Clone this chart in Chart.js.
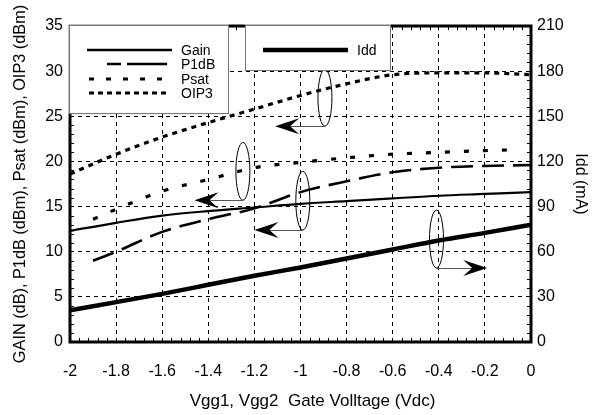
<!DOCTYPE html>
<html><head><meta charset="utf-8">
<script src="https://cdn.jsdelivr.net/npm/chart.js@4/dist/chart.umd.min.js"></script>
<style>html,body{margin:0;padding:0;background:#fff}</style>
</head><body>
<canvas id="c" width="595" height="415"></canvas>
<script>
// ---- data ----
const xTicks = [-2, -1.8, -1.6, -1.4, -1.2, -1, -0.8, -0.6, -0.4, -0.2, 0];
const xLabels = ['-2', '-1.8', '-1.6', '-1.4', '-1.2', '-1', '-0.8', '-0.6', '-0.4', '-0.2', '0'];
const vgg = [-2, -1.8, -1.6, -1.4, -1.2, -1.0, -0.8, -0.6, -0.4, -0.2, 0];
const gain = [12.3, 13.2, 14.0, 14.5, 14.9, 15.3, 15.6, 15.9, 16.2, 16.4, 16.6];
const oip3 = [18.6, 20.8, 22.7, 24.3, 25.8, 27.3, 28.6, 29.6, 29.8, 29.8, 29.6];
const idd = [21, 26.5, 32, 38, 44, 49.5, 55.5, 61.5, 67.5, 72.5, 78];
const vggP1 = [-1.9, -1.8, -1.6, -1.4, -1.2, -1.0, -0.8, -0.6, -0.4, -0.2, 0];
const p1db = [9.0, 10.0, 12.2, 13.6, 14.8, 16.6, 17.8, 18.8, 19.3, 19.5, 19.6];
const vggPs = [-1.9, -1.8, -1.6, -1.4, -1.2, -1.0, -0.8, -0.6, -0.4, -0.2, -0.05];
const psat = [13.6, 14.7, 16.7, 18.0, 19.3, 19.9, 20.4, 20.8, 21.0, 21.2, 21.3];
// callouts (data units): ellipse centre x, ellipse top/bottom y, arrow tip x
const calloutX = [-0.894, -1.25, -0.99, -0.41];
const calloutTop = [30.2, 22.1, 18.9, 14.6];
const calloutBottom = [23.9, 15.7, 12.4, 8.2];
const calloutTip = [-1.11, -1.46, -1.20, -0.19];
const xTitle = 'Vgg1, Vgg2  Gate Volltage (Vdc)';

const pts = (xs, ys) => xs.map((x, i) => ({x: x, y: ys[i]}));
const FONT = 'Liberation Sans, Arial, Helvetica, sans-serif';

const overlay = {
  id: 'overlay',
  afterDraw(chart) {
    const ctx = chart.ctx, ca = chart.chartArea;
    const xs = chart.scales.x, ys = chart.scales.y;
    ctx.save();
    // minor ticks
    ctx.strokeStyle = '#000'; ctx.lineWidth = 1;
    ctx.beginPath();
    for (let i = 0; i < xTicks.length - 1; i++) {
      for (let k = 1; k < 5; k++) {
        const v = xTicks[i] + (xTicks[i + 1] - xTicks[i]) * k / 5;
        const px = Math.round(xs.getPixelForValue(v)) + 0.5;
        ctx.moveTo(px, ca.bottom); ctx.lineTo(px, ca.bottom - 4);
        ctx.moveTo(px, ca.top); ctx.lineTo(px, ca.top + 4);
      }
    }
    for (let v = 0; v <= 35; v++) {
      if (v % 5 === 0) continue;
      const py = Math.round(ys.getPixelForValue(v)) + 0.5;
      ctx.moveTo(ca.left, py); ctx.lineTo(ca.left + 4, py);
      ctx.moveTo(ca.right, py); ctx.lineTo(ca.right - 4, py);
    }
    ctx.stroke();
    // frame
    ctx.lineWidth = 3; ctx.strokeStyle = '#000';
    ctx.strokeRect(ca.left, ca.top, ca.right - ca.left, ca.bottom - ca.top);
    // x-axis title (sits slightly right of centre in the original)
    ctx.fillStyle = '#000';
    ctx.font = '17px ' + FONT; ctx.textAlign = 'center'; ctx.textBaseline = 'middle';
    ctx.fillText(xTitle, (ca.left + ca.right) / 2 + 12, ca.bottom + 59);
    // callouts
    for (let i = 0; i < calloutX.length; i++) {
      const cx = xs.getPixelForValue(calloutX[i]);
      const yt = ys.getPixelForValue(calloutTop[i]);
      const yb = ys.getPixelForValue(calloutBottom[i]);
      const tip = xs.getPixelForValue(calloutTip[i]);
      ctx.lineWidth = 1; ctx.strokeStyle = '#000';
      ctx.beginPath();
      ctx.ellipse(cx, (yt + yb) / 2, 7, (yb - yt) / 2, 0, 0, Math.PI * 2);
      ctx.stroke();
      const dir = tip < cx ? 1 : -1;
      ctx.strokeStyle = '#555';
      ctx.beginPath();
      ctx.moveTo(cx, Math.round(yb) + 0.5); ctx.lineTo(tip + dir * 14, Math.round(yb) + 0.5);
      ctx.stroke();
      ctx.fillStyle = '#000';
      ctx.beginPath();
      ctx.moveTo(tip, yb);
      ctx.lineTo(tip + dir * 24, yb - 8);
      ctx.lineTo(tip + dir * 15, yb);
      ctx.lineTo(tip + dir * 24, yb + 8);
      ctx.closePath();
      ctx.fill();
    }
    // legend boxes
    const L = ca.left, T = ca.top;
    ctx.fillStyle = '#fff'; ctx.strokeStyle = '#777'; ctx.lineWidth = 1;
    ctx.fillRect(L - 1.5, T - 1.5, 160, 89);
    ctx.strokeRect(L - 0.5, T - 0.5, 159, 88);
    ctx.fillRect(L + 175, T - 1.5, 146, 46);
    ctx.strokeRect(L + 175.5, T - 0.5, 145, 45);
    ctx.strokeStyle = '#000'; ctx.fillStyle = '#000';
    ctx.font = '14px ' + FONT; ctx.textBaseline = 'middle'; ctx.textAlign = 'left';
    const rows = [
      {t: 'Gain', y: 24, x0: 17, x1: 102, w: 2.5, d: []},
      {t: 'P1dB', y: 38, x0: 37, x1: 97, w: 2.5, d: [14, 6, 40, 0]},
      {t: 'Psat', y: 53, x0: 19, x1: 98, w: 3, d: [5, 12]},
      {t: 'OIP3', y: 67, x0: 19, x1: 98, w: 3, d: [5, 4]}
    ];
    rows.forEach(r => {
      ctx.lineWidth = r.w; ctx.setLineDash(r.d);
      ctx.beginPath(); ctx.moveTo(L + r.x0, T + r.y); ctx.lineTo(L + r.x1, T + r.y); ctx.stroke();
      ctx.setLineDash([]);
      ctx.fillText(r.t, L + 111, T + r.y + 1);
    });
    ctx.lineWidth = 4.5;
    ctx.beginPath(); ctx.moveTo(L + 193, T + 24); ctx.lineTo(L + 278, T + 24); ctx.stroke();
    ctx.fillText('Idd', L + 287, T + 25);
    ctx.restore();
  }
};

new Chart(document.getElementById('c'), {
  type: 'line',
  data: {
    datasets: [
      {label: 'Gain', data: pts(vgg, gain), yAxisID: 'y', borderColor: '#000', borderWidth: 2.2},
      {label: 'P1dB', data: pts(vggP1, p1db), yAxisID: 'y', borderColor: '#000', borderWidth: 2.6, borderDash: [22, 9]},
      {label: 'Psat', data: pts(vggPs, psat), yAxisID: 'y', borderColor: '#000', borderWidth: 3.2, borderDash: [5, 14]},
      {label: 'OIP3', data: pts(vgg, oip3), yAxisID: 'y', borderColor: '#000', borderWidth: 3.2, borderDash: [5, 5]},
      {label: 'Idd', data: pts(vgg, idd), yAxisID: 'y1', borderColor: '#000', borderWidth: 4.5}
    ]
  },
  options: {
    responsive: false,
    devicePixelRatio: 1,
    animation: false,
    elements: {point: {radius: 0}, line: {cubicInterpolationMode: 'monotone', fill: false}},
    layout: {padding: {top: 26, left: 0, right: 0, bottom: 0}},
    plugins: {legend: {display: false}, tooltip: {enabled: false}},
    scales: {
      x: {
        type: 'linear', min: -2, max: 0,
        afterBuildTicks: s => { s.ticks = xTicks.map(v => ({value: v})); },
        afterFit: s => { s.height = 73; },
        ticks: {color: '#000', font: {family: FONT, size: 16}, padding: 20, maxRotation: 0,
          callback: (v, i) => xLabels[i]},
        grid: {color: '#000', lineWidth: 1, drawTicks: false},
        border: {display: false, dash: [4, 4]},
        title: {display: false}
      },
      y: {
        position: 'left', min: 0, max: 35,
        afterFit: s => { s.width = 70; },
        ticks: {stepSize: 5, color: '#000', font: {family: FONT, size: 16}, padding: 7},
        grid: {color: '#000', lineWidth: 1, drawTicks: false},
        border: {display: false, dash: [4, 4]},
        title: {display: true, text: 'GAIN (dB), P1dB (dBm), Psat (dBm), OIP3 (dBm)', color: '#000',
          font: {family: FONT, size: 16.3}, padding: {top: 11, bottom: 0}}
      },
      y1: {
        position: 'right', min: 0, max: 210,
        afterFit: s => { s.width = 64; },
        ticks: {stepSize: 30, color: '#000', font: {family: FONT, size: 16}, padding: 6},
        grid: {drawOnChartArea: false, drawTicks: false},
        border: {display: false},
        title: {display: true, text: 'Idd (mA)', color: '#000',
          font: {family: FONT, size: 16}, padding: {top: 5, bottom: 0}}
      }
    }
  },
  plugins: [overlay]
});
</script>
</body></html>
